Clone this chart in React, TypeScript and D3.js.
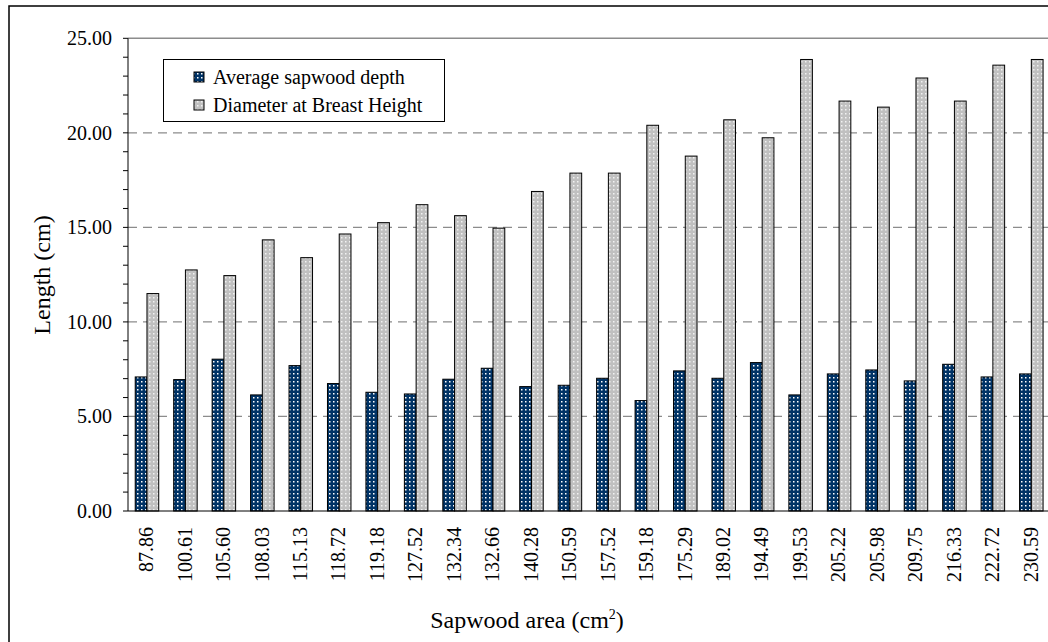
import React from "react";
import * as d3 from "d3";

const categories = ["87.86","100.61","105.60","108.03","115.13","118.72","119.18","127.52","132.34","132.66","140.28","150.59","157.52","159.18","175.29","189.02","194.49","199.53","205.22","205.98","209.75","216.33","222.72","230.59"];
const sapwoodDepth = [7.09,6.95,8.03,6.14,7.69,6.74,6.28,6.19,6.97,7.55,6.58,6.65,7.02,5.84,7.41,7.02,7.85,6.14,7.25,7.46,6.88,7.76,7.09,7.25];
const dbh = [11.5,12.75,12.45,14.34,13.4,14.65,15.25,16.2,15.62,14.96,16.9,17.87,17.87,20.4,18.77,20.69,19.74,23.88,21.68,21.36,22.9,21.68,23.58,23.88];
const seriesNames = ["Average sapwood depth","Diameter at Breast Height"];
const yTicks = [0,5,10,15,20,25];

const W = 1048, H = 642;
const left = 128, top = 38.3, bottom = 511;
const step = 38.45;
const FONT = '"Liberation Serif", Tinos, "Times New Roman", "DejaVu Serif", serif';

export default function App() {
  const x = d3.scaleBand<string>().domain(categories).range([left, left + step * categories.length]).paddingInner(0).paddingOuter(0);
  const inner = d3.scaleBand<string>().domain(["a","b"]).range([step/2 - 12, step/2 + 11.5]).padding(0);
  const y = d3.scaleLinear().domain([0,25]).range([bottom, top]);
  const minor = d3.range(0, 26, 1);
  const fills = ["url(#patDark)", "url(#patLight)"];
  const series = [sapwoodDepth, dbh];
  const ts = { fontFamily: FONT };
  return (
    <svg width={W} height={H} style={{position:"absolute", left:0, top:0, background:"#fff", fontFamily: FONT}}>
      <defs>
        <pattern id="patDark" width="4" height="4" patternUnits="userSpaceOnUse">
          <rect width="4" height="4" fill="#003366"/>
          <rect x="1" y="1" width="1.5" height="1.5" fill="#ffffff"/>
        </pattern>
        <pattern id="patLight" width="4" height="4" patternUnits="userSpaceOnUse">
          <rect width="4" height="4" fill="#c0c0c0"/>
          <rect x="1" y="1" width="1.5" height="1.5" fill="#f2f2f2"/>
        </pattern>
      </defs>
      <rect x={9} y={6} width={W + 20} height={H + 20} fill="none" stroke="#000" strokeWidth={1.5}/>
      {yTicks.filter(t => t > 0 && t < 25).map(t => (
        <line key={t} x1={left} x2={W} y1={y(t)} y2={y(t)} stroke="#8c8c8c" strokeWidth={1.2} strokeDasharray="9,6"/>
      ))}
      <line x1={left} x2={W} y1={y(25)} y2={y(25)} stroke="#8c8c8c" strokeWidth={1.5}/>
      {categories.map((c, i) => (
        <g key={c}>
          {series.map((s, j) => (
            <rect key={j} x={(x(c) as number) + (inner(j===0?"a":"b") as number)} y={y(s[i])}
              width={inner.bandwidth()} height={y(0) - y(s[i])} fill={fills[j]} stroke="#000" strokeWidth={1}/>
          ))}
        </g>
      ))}
      <line x1={left} x2={left} y1={y(0)} y2={y(25)} stroke="#000" strokeWidth={1}/>
      <line x1={left} x2={W} y1={y(0)} y2={y(0)} stroke="#000" strokeWidth={1}/>
      {minor.map(t => (
        <line key={t} x1={left - 5} x2={left} y1={y(t)} y2={y(t)} stroke="#000" strokeWidth={1}/>
      ))}
      {yTicks.map(t => (
        <text key={t} style={ts} x={112} y={y(t)} dy="0.35em" textAnchor="end" fontSize={20} fill="#000">{t.toFixed(2)}</text>
      ))}
      {categories.map(c => {
        const cx = (x(c) as number) + step / 2 + 6;
        return (
          <text key={c} style={ts} transform={`translate(${cx},527) rotate(-90)`} textAnchor="end" fontSize={20} fill="#000">{c}</text>
        );
      })}
      <text style={ts} transform="translate(50,275) rotate(-90)" textAnchor="middle" fontSize={24} fill="#000">Length (cm)</text>
      <text style={ts} x={527} y={628} textAnchor="middle" fontSize={24} fill="#000">Sapwood area (cm<tspan dy="-9" fontSize={14}>2</tspan><tspan dy="9">)</tspan></text>
      <rect x={163.5} y={59.5} width={281} height={62} fill="#fff" stroke="#000" strokeWidth={1}/>
      {seriesNames.map((n, j) => (
        <g key={n}>
          <rect x={194} y={[72, 100][j]} width={10} height={10} fill={fills[j]} stroke="#000" strokeWidth={1}/>
          <text style={ts} x={213} y={[77, 105][j]} dy="0.35em" fontSize={20} fill="#000">{n}</text>
        </g>
      ))}
    </svg>
  );
}
